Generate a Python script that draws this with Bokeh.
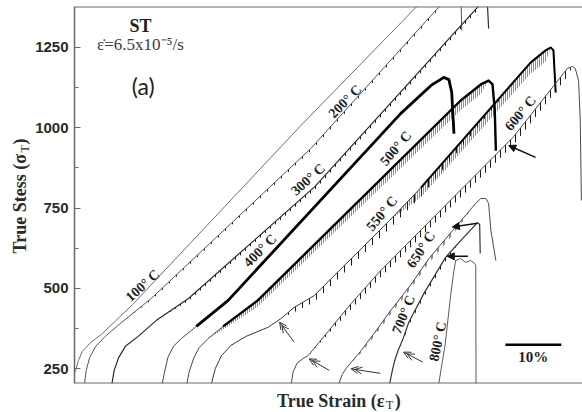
import numpy as np
from bokeh.plotting import figure
from bokeh.layouts import row, column
from bokeh.models import Label, Arrow, OpenHead, NormalHead, Span, FixedTicker
from bokeh.embed import file_html
from bokeh.resources import INLINE

# Curves are shifted along the strain axis so they do not overlap;
# strain is in %, stress in MPa.
temperatures = [100, 200, 300, 400, 500, 550, 600, 650, 700, 800]

strain_100 = [-0.2, 0.2, 0.7, 1.4, 2.7, 4.8, 10.4, 40.5, 61.1, 66.4]
stress_100 = [226, 245, 276, 304, 329, 357, 450, 1007, 1375, 1471]

strain_200 = [1.8, 2.1, 2.7, 3.8, 5.5, 8.4, 13.8, 42.3, 64.3, 68.6, 69.1, 69.3]
stress_200 = [204, 245, 285, 320, 351, 394, 470, 936, 1359, 1440, 1440, 1303]

strain_300 = [6.7, 7.1, 7.9, 9.1, 11.4, 14.6, 20.4, 43.0, 72.1, 73.4, 73.9, 74.1]
stress_300 = [204, 245, 285, 320, 351, 400, 469, 817, 1375, 1403, 1381, 1309]

strain_400 = [15.7, 16.1, 16.7, 17.7, 19.1, 21.8, 27.5, 58.4, 63.8, 66.1, 67.0, 67.5, 67.9]
stress_400 = [204, 239, 285, 320, 344, 382, 463, 1045, 1132, 1157, 1150, 1110, 982]

strain_500 = [20.1, 20.5, 21.3, 22.3, 23.9, 26.6, 32.8, 69.1, 72.7, 74.1, 74.8, 75.2, 75.4]
stress_500 = [204, 239, 282, 316, 344, 382, 463, 1085, 1135, 1147, 1135, 1054, 929]

strain_550 = [24.5, 25.2, 26.3, 28.0, 30.7, 34.6, 37.0, 39.3, 42.9, 56.4, 62.0, 81.6, 84.3,
              85.2, 85.7, 86.1]
stress_550 = [204, 251, 291, 323, 351, 379, 407, 441, 478, 712, 814, 1203, 1241,
              1250, 1241, 1110]

strain_600 = [38.8, 39.1, 39.8, 40.9, 41.8, 49.5, 54.8, 78.6, 88.2, 89.1, 89.6, 90.2, 90.5, 90.7]
stress_600 = [204, 239, 267, 282, 291, 453, 556, 973, 1185, 1191, 1185, 1147, 1023, 774]

strain_650 = [47.3, 47.9, 48.6, 49.5, 51.3, 53.6, 56.6, 60.2, 63.4, 67.7, 71.8, 72.7, 73.6,
              74.1, 74.5, 75.4]
stress_650 = [204, 232, 251, 270, 307, 360, 432, 512, 593, 681, 765, 780, 780,
              765, 681, 587]

strain_700 = [56.4, 56.8, 57.3, 57.9, 58.8, 59.8, 62.5, 66.4, 69.1, 72.1, 72.5, 72.6]
stress_700 = [204, 239, 276, 307, 344, 394, 484, 597, 649, 705, 699, 609]

strain_800 = [65.2, 65.7, 66.3, 66.8, 67.3, 67.9, 68.2, 69.1, 70.0, 70.9, 71.6, 71.8, 71.85]
stress_800 = [204, 260, 323, 400, 478, 556, 587, 593, 581, 587, 578, 572, 180]

# depth of the serration drops at each point of a curve (MPa)
serration_200 = [0, 0, 0, 0, 0, 0, 6, 8, 8, 0, 0, 0]
serration_300 = [0, 0, 0, 0, 0, 0, 8, 10, 10, 0, 0, 0]
serration_500 = [0, 0, 0, 0, 0, 10, 20, 30, 30, 0, 0, 0, 0]
serration_550 = [0, 0, 0, 0, 0, 0, 0, 15, 20, 25, 28, 0, 0, 0, 0, 0]
serration_550_dense = [0, 0, 0, 0, 0, 0, 0, 0, 0, 0, 30, 35, 35, 0, 0, 0]
serration_600 = [0, 0, 0, 0, 0, 18, 20, 25, 25, 0, 0, 0, 0, 0]
serration_650 = [0, 0, 0, 0, 8, 10, 12, 12, 14, 14, 0, 0, 0, 0, 0, 0]
serration_700 = [0, 0, 0, 0, 8, 10, 12, 12, 0, 0, 0, 0]

strain_rate_text = "\u03b5\u0307=6.5x10\u207b\u2075/s"
scale_bar_strain = 10  # %

curves = {
    100: (strain_100, stress_100), 200: (strain_200, stress_200),
    300: (strain_300, stress_300), 400: (strain_400, stress_400),
    500: (strain_500, stress_500), 550: (strain_550, stress_550),
    600: (strain_600, stress_600), 650: (strain_650, stress_650),
    700: (strain_700, stress_700), 800: (strain_800, stress_800),
}
# (curve, serration depths, spacing of the drops in px)
serrations = [(200, serration_200, 7), (300, serration_300, 5),
              (500, serration_500, 2), (550, serration_550, 7),
              (550, serration_550_dense, 2), (600, serration_600, 5),
              (650, serration_650, 6), (700, serration_700, 5)]

line_style = {
    100: ("#6e6e6e", 1.0), 200: ("#555555", 1.0), 300: ("#2a2a2a", 1.2),
    400: ("#4a4a4a", 1.0), 500: ("#4a4a4a", 1.0), 550: ("#3a3a3a", 1.0),
    600: ("#4a4a4a", 1.0), 650: ("#4a4a4a", 1.0), 700: ("#333333", 1.2),
    800: ("#5a5a5a", 1.0),
}
# point index from which a curve is drawn heavy, and that width
heavy_from = {400: (5, 2.8), 500: (5, 2.4), 550: (10, 2.0)}

X0, X1 = 0.0, 90.9
Y0, Y1 = 204.3, 1377.6
SERIF = "Liberation Serif"
INK = "#1e1e1e"
FRAME_LEFT = 41

p = figure(width=550, height=384, x_range=(X0, X1), y_range=(Y0, Y1),
           output_backend="svg", toolbar_location=None, title=None,
           min_border_left=FRAME_LEFT, min_border_right=0, min_border_top=6,
           min_border_bottom=1, x_axis_location=None)
p.background_fill_color = "white"
p.border_fill_color = "white"
p.outline_line_color = None
p.grid.visible = False

p.yaxis.ticker = FixedTicker(ticks=[250, 500, 750, 1000, 1250],
                             minor_ticks=[375, 625, 875, 1125])
p.yaxis.major_tick_in = 6
p.yaxis.major_tick_out = 0
p.yaxis.minor_tick_in = 4
p.yaxis.minor_tick_out = 0
p.yaxis.axis_line_color = "#6a6a6a"
p.yaxis.axis_line_width = 1.5
p.yaxis.major_tick_line_color = "#6a6a6a"
p.yaxis.minor_tick_line_color = "#6a6a6a"
p.yaxis.major_label_text_font = "Liberation Sans"
p.yaxis.major_label_text_font_style = "bold"
p.yaxis.major_label_text_font_size = "15px"
p.yaxis.major_label_text_color = "#2a2a2a"
p.yaxis.major_label_standoff = 6

# frame lines at bottom and top
p.add_layout(Span(location=Y0, dimension="width", line_color="#6a6a6a", line_width=2))
p.add_layout(Span(location=Y1, dimension="width", line_color="#6a6a6a", line_width=2))

# serration bands (vertical drops below the flow curve)
for t, depth, spacing in serrations:
    s, sig = curves[t]
    s = np.array(s, float)
    sig = np.array(sig, float)
    low = sig - np.array(depth, float)
    p.patch(np.concatenate([s, s[::-1]]), np.concatenate([sig, low[::-1]]),
            fill_alpha=0, line_alpha=0, hatch_pattern="vertical_line",
            hatch_color="#1a1a1a", hatch_scale=spacing, hatch_weight=1)

for t in temperatures:
    s, sig = curves[t]
    c, w = line_style[t]
    p.line(s, sig, line_color=c, line_width=w, line_join="round")
    if t in heavy_from:
        i0, hw = heavy_from[t]
        p.line(s[i0:], sig[i0:], line_color="black", line_width=hw, line_join="round")

# curve labels: (strain, stress, angle in degrees)
label_pos = {
    100: (12.2, 509, 42), 200: (48.4, 1082, 45), 300: (41.8, 839, 42),
    400: (33.2, 618, 45), 500: (57.5, 936, 50), 550: (55.0, 733, 50),
    600: (79.8, 1045, 50), 650: (62.0, 621, 57), 700: (58.9, 419, 68),
    800: (65.0, 335, 78),
}
for t, (lx, ly, ang) in label_pos.items():
    p.add_layout(Label(x=lx, y=ly, text=f"{t}\u00b0 C", angle=ang, angle_units="deg",
                       text_align="center", text_baseline="middle",
                       text_font=SERIF, text_font_style="bold",
                       text_font_size="14px", text_color=INK))

# arrows marking the onset of serrations
px_x = 509 / (X1 - X0)
px_y = 377 / (Y1 - Y0)
single_arrows = [((82.5, 908), (77.7, 945)), ((72.1, 703), (67.6, 691)),
                 ((70.4, 600), (66.7, 600))]
double_arrows = [((39.3, 333), (36.7, 395)), ((45.6, 245), (42.0, 281)),
                 ((54.7, 236), (49.5, 250)), ((62.3, 271), (58.9, 302))]
for (tx, ty), (hx, hy) in single_arrows:
    p.add_layout(Arrow(x_start=tx, y_start=ty, x_end=hx, y_end=hy,
                       line_color="#111111", line_width=1.5,
                       end=NormalHead(size=7, line_color="#111111", fill_color="#111111",
                                      line_width=1)))
for (tx, ty), (hx, hy) in double_arrows:
    p.add_layout(Arrow(x_start=tx, y_start=ty, x_end=hx, y_end=hy,
                       line_color="#333333", line_width=1,
                       end=OpenHead(size=7, line_color="#333333", line_width=1)))
    dx, dy = (tx - hx) * px_x, (ty - hy) * px_y
    n = np.hypot(dx, dy)
    hx2 = hx + (dx / n) * 4 / px_x
    hy2 = hy + (dy / n) * 4 / px_y
    p.add_layout(Arrow(x_start=tx, y_start=ty, x_end=hx2, y_end=hy2,
                       line_alpha=0,
                       end=OpenHead(size=7, line_color="#333333", line_width=1)))

# scale bar
bar_x0, bar_y = 77.1, 325
p.line([bar_x0, bar_x0 + scale_bar_strain], [bar_y, bar_y], line_color="black", line_width=2.5)
p.add_layout(Label(x=bar_x0 + scale_bar_strain / 2, y=bar_y - 12, text=f"{scale_bar_strain}%",
                   text_align="center", text_baseline="top", text_font=SERIF,
                   text_font_style="bold", text_font_size="15px", text_color=INK))

# header texts
p.add_layout(Label(x=11.8, y=1318, text="ST", text_align="center", text_baseline="middle",
                   text_font=SERIF, text_font_style="bold", text_font_size="18px",
                   text_color=INK))
p.add_layout(Label(x=11.8, y=1259, text=strain_rate_text, text_align="center",
                   text_baseline="middle", text_font=SERIF, text_font_size="17px",
                   text_color="#3a3a3a"))
p.add_layout(Label(x=12.3, y=1129, text="(a)", text_align="center", text_baseline="middle",
                   text_font="Lato", text_font_size="23px", text_color=INK))


def text_panel(width, height, xr, yr, **borders):
    f = figure(width=width, height=height, x_range=xr, y_range=yr,
               output_backend="svg", toolbar_location=None, title=None,
               min_border=0, x_axis_location=None, y_axis_location=None, **borders)
    f.outline_line_color = None
    f.grid.visible = False
    f.background_fill_color = "white"
    f.border_fill_color = "white"
    return f


# axis titles (with subscript T); ranges are set so that data units are page pixels
ytitle = text_panel(32, 412, (0, 32), (383, 6), min_border_top=6, min_border_bottom=29)
ytitle.add_layout(Label(x=19, y=253, text="True Stess (\u03c3", angle=90, angle_units="deg",
                        text_align="left", text_baseline="middle", text_font=SERIF,
                        text_font_style="bold", text_font_size="18px", text_color="#2a2a2a"))
ytitle.add_layout(Label(x=24, y=152, text="T", angle=90, angle_units="deg",
                        text_align="left", text_baseline="middle", text_font=SERIF,
                        text_font_size="12px", text_color="#2a2a2a"))
ytitle.add_layout(Label(x=19, y=144, text=")", angle=90, angle_units="deg",
                        text_align="left", text_baseline="middle", text_font=SERIF,
                        text_font_style="bold", text_font_size="18px", text_color="#2a2a2a"))

xtitle = text_panel(550, 28, (73, 582), (412, 384), min_border_left=FRAME_LEFT)
xtitle.add_layout(Label(x=276, y=400, text="True Strain (\u03b5", text_align="left",
                        text_baseline="alphabetic", text_font=SERIF, text_font_style="bold",
                        text_font_size="18px", text_color="#2a2a2a"))
xtitle.add_layout(Label(x=385, y=404, text="T", text_align="left", text_baseline="alphabetic",
                        text_font=SERIF, text_font_size="12px", text_color="#2a2a2a"))
xtitle.add_layout(Label(x=394, y=400, text=")", text_align="left", text_baseline="alphabetic",
                        text_font=SERIF, text_font_style="bold", text_font_size="18px",
                        text_color="#2a2a2a"))

layout = row(ytitle, column(p, xtitle, spacing=0), spacing=0)
open("out.html", "w").write(file_html(layout, INLINE))
